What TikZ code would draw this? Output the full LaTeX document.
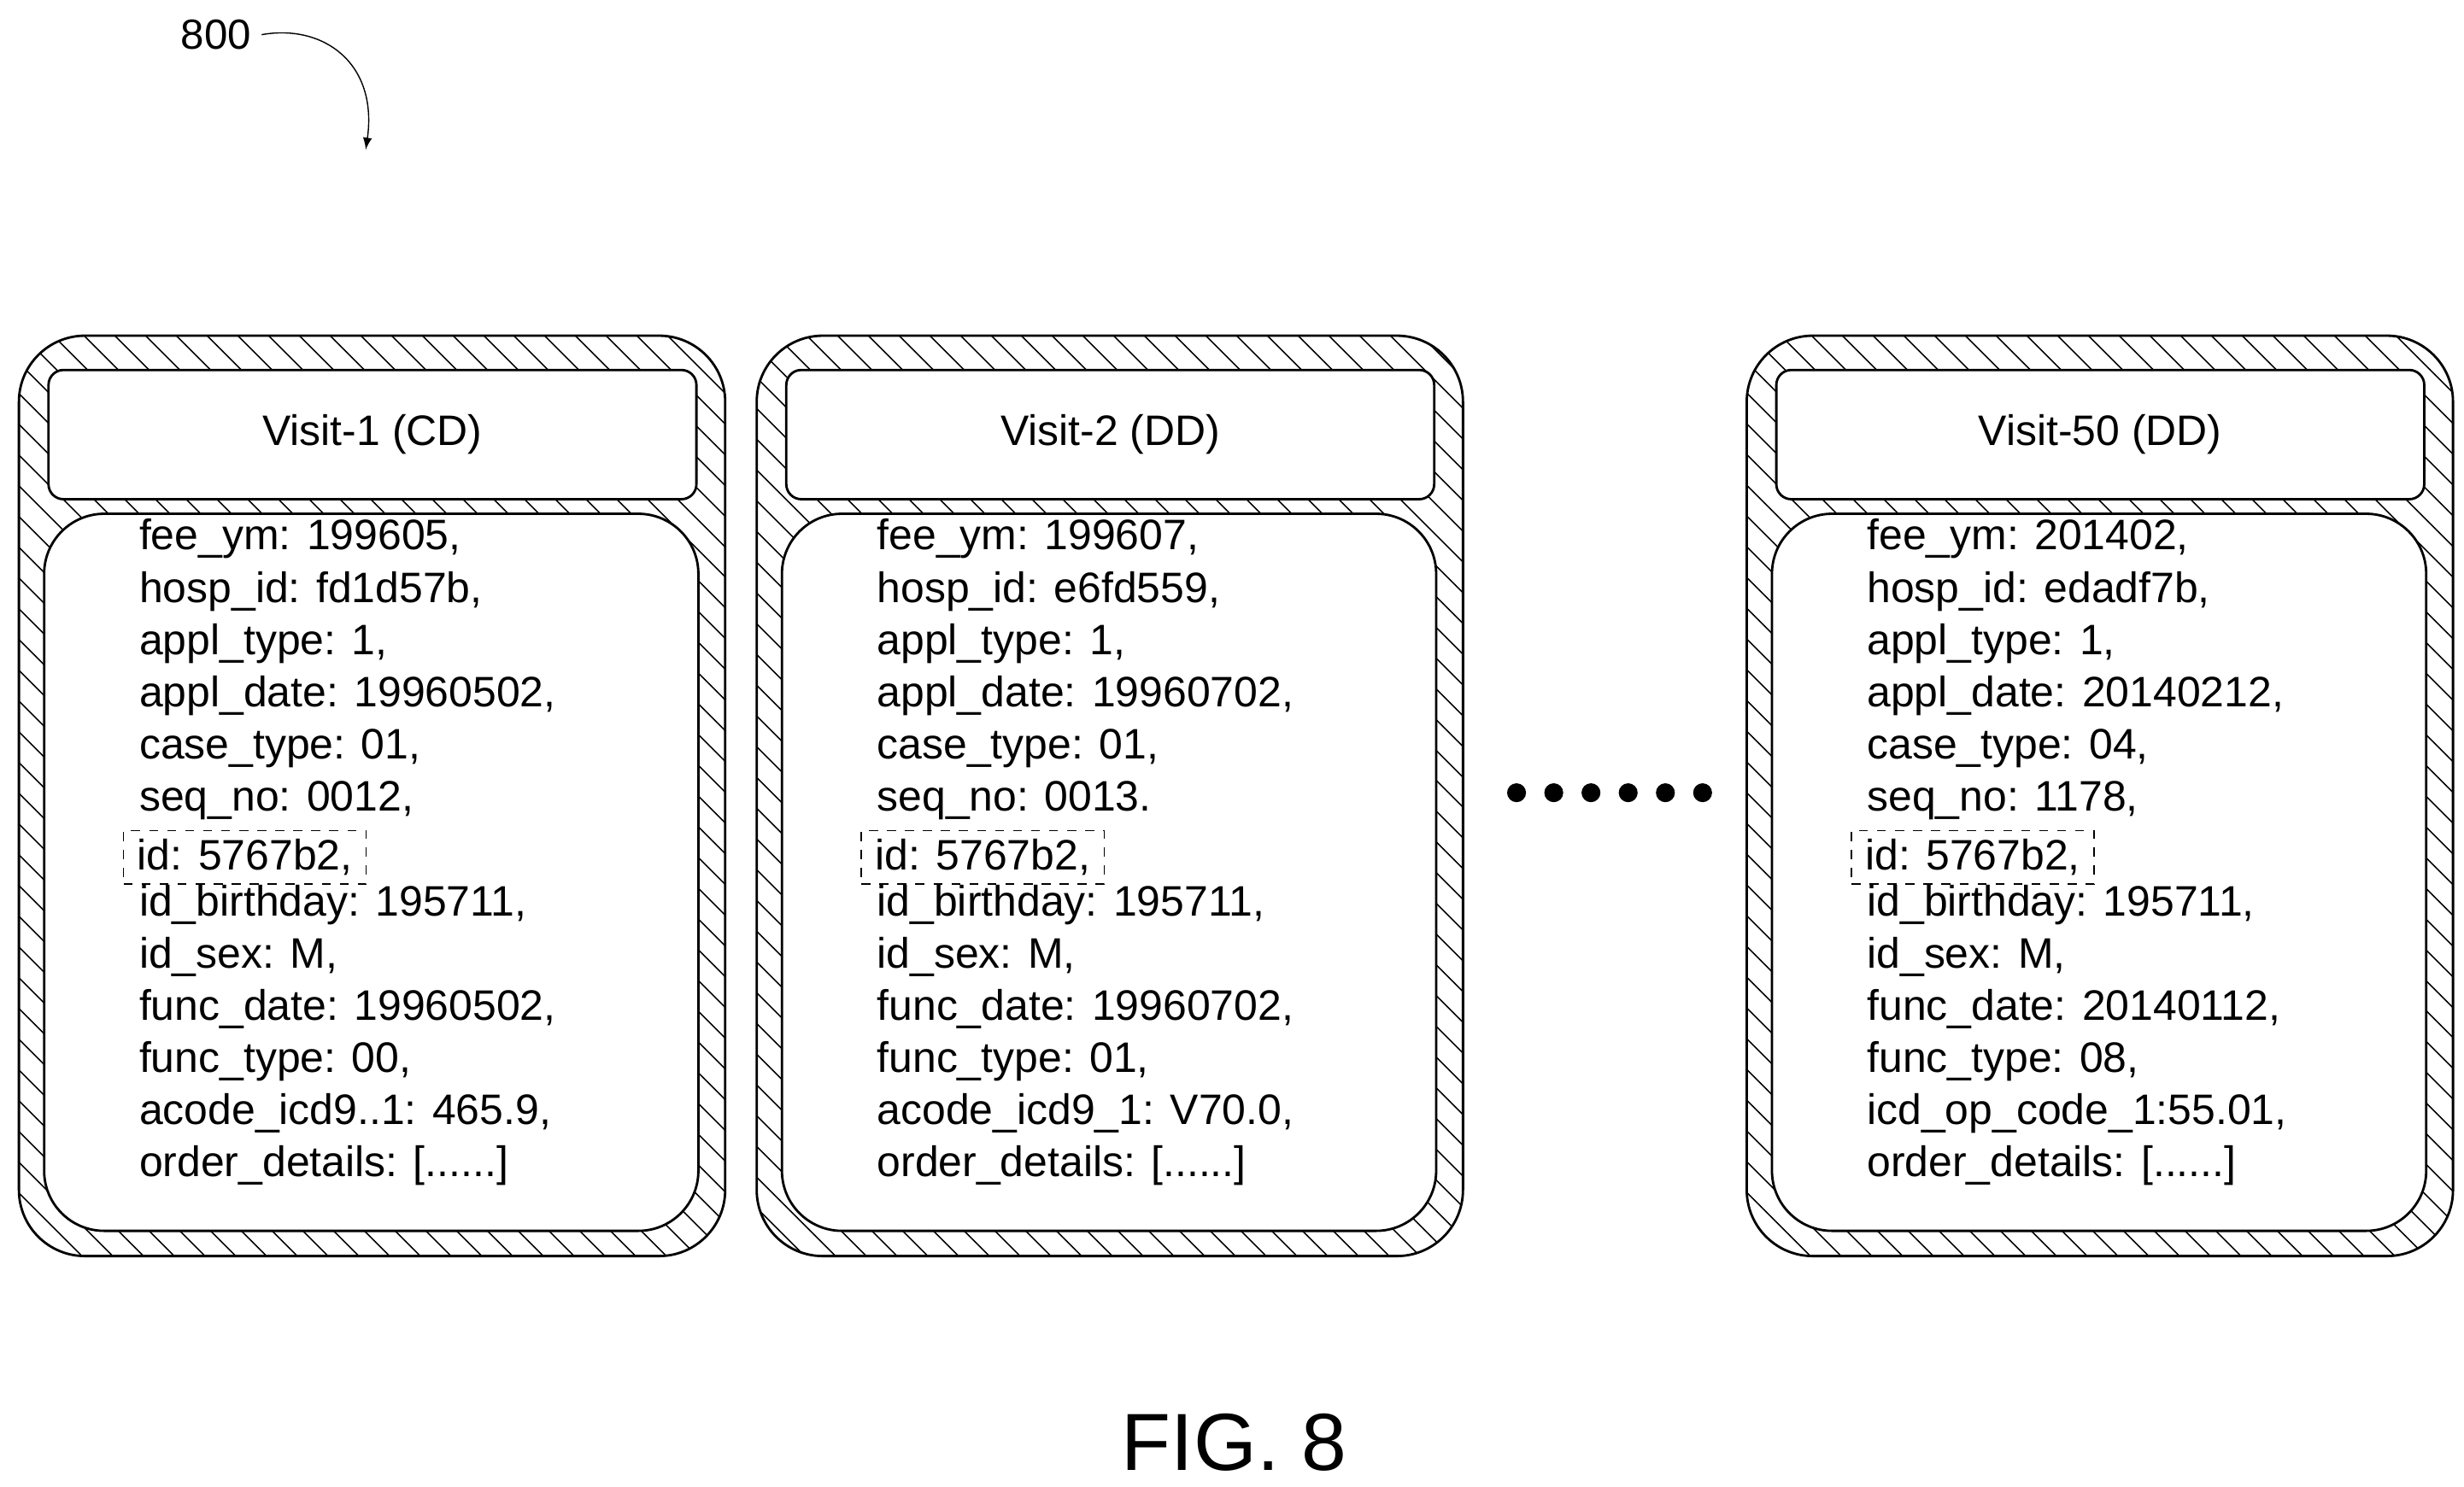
\documentclass[tikz,border=0pt]{standalone}
\usepackage{fontspec}
\setmainfont{Liberation Sans}
\usetikzlibrary{patterns.meta}
\begin{document}
\begin{tikzpicture}[x=0.01845cm,y=-0.01845cm]
  \tikzset{outer/.style={draw, thick, rounded corners=22pt, pattern={Lines[angle=-45,distance=0.26cm,line width=0.5pt]}},
           title/.style={draw, thick, fill=white, rounded corners=5pt},
           body/.style={draw, thick, fill=white, rounded corners=20pt},
           fields/.style={anchor=north west, align=left, inner sep=0pt, font=\fontsize{14.2}{17.4}\selectfont},
           idbox/.style={draw, dashed, inner sep=0pt}}
  \useasboundingbox (0,0) rectangle (1563,943);
%% Label and figure caption
  \node[font=\fontsize{14}{16}\selectfont] (ref) at (137,22) {800};
  \coordinate (refend) at (232,95);
  \draw[->, >=latex] (ref.east) .. controls (205,15) and (240,40) .. (refend);
  \node[font=\fontsize{27}{30}\selectfont] (fig) at (783,915) {FIG. 8};
%% Visit boxes
  \foreach \x/\name/\head/\fee/\hosp/\appl/\case/\seq/\fd/\ft/\code in {
      {12}/{v1}/{Visit-1 (CD)}/{199605}/{fd1d57b}/{19960502}/{01}/{0012,}/{19960502}/{00}/{acode\_icd9..1: 465.9,},
      {480}/{v2}/{Visit-2 (DD)}/{199607}/{e6fd559}/{19960702}/{01}/{0013.}/{19960702}/{01}/{acode\_icd9\_1: V70.0,},
      {1108}/{v3}/{Visit-50 (DD)}/{201402}/{edadf7b}/{20140212}/{04}/{1178,}/{20140112}/{08}/{icd\_op\_code\_1:55.01,}}{
    \draw[outer] (\x,213) rectangle ++(448,584);
    \node[title, minimum width=411*0.01845cm, minimum height=82*0.01845cm, anchor=north west,
          font=\fontsize{14.2}{17}\selectfont] (\name t) at (\x+18,234) {\head};
    \draw[body] (\x+16,326) rectangle ++(415,455);
    \node[fields] (\name f) at (\x+76,329) {fee\_ym: \fee,\\ hosp\_id: \hosp,\\ appl\_type: 1,\\
      appl\_date: \appl,\\ case\_type: \case,\\ seq\_no: \seq\\ \phantom{id: 5767b2,}\\
      id\_birthday: 195711,\\ id\_sex: M,\\ func\_date: \fd,\\ func\_type: \ft,\\
      \code\\ order\_details: [......]};
    \node[idbox, minimum width=154*0.01845cm, minimum height=34*0.01845cm, anchor=west,
          font=\fontsize{14.2}{17}\selectfont] (\name id) at (\x+66,544) {id: 5767b2,};
  }
%% Dots
  \foreach \i in {0,...,5}
    \fill (962+\i*23.6,503) circle (6);
\end{tikzpicture}
\end{document}
